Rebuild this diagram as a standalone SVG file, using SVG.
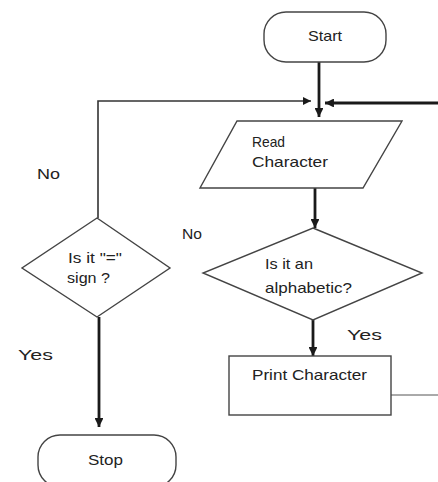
<svg xmlns="http://www.w3.org/2000/svg" width="438" height="482" viewBox="0 0 438 482">
  <defs>
    <marker id="arrow" viewBox="0 0 10 10" refX="10" refY="5" markerWidth="3.2" markerHeight="3.2" orient="auto" markerUnits="strokeWidth">
      <path d="M0,0 L10,5 L0,10 z" fill="#1a1a1a"/>
    </marker>
    <marker id="arrowThin" viewBox="0 0 10 10" refX="10" refY="5" markerWidth="5" markerHeight="5" orient="auto" markerUnits="strokeWidth">
      <path d="M0,0 L10,5 L0,10 z" fill="#1a1a1a"/>
    </marker>
  </defs>
  <style>
    .shape { fill: #ffffff; stroke: #444444; stroke-width: 1.4; }
    .conn { fill: none; stroke: #1a1a1a; stroke-width: 2.8; }
    .thin { fill: none; stroke: #333333; stroke-width: 1.6; }
    .hair { fill: none; stroke: #555555; stroke-width: 1; }
    text { font-family: "Liberation Sans", Arial, sans-serif; font-size: 14.5px; fill: #222222; }
  </style>
  <rect width="438" height="482" fill="#ffffff"/>

  <g id="connectors">
    <!-- Start to Read Character -->
    <path class="conn" d="M319,62 L319,117" marker-end="url(#arrow)"/>
    <!-- loop back from "=" decision -->
    <path class="thin" d="M98,218 L98,101 L311,101" marker-end="url(#arrowThin)"/>
    <!-- loop back from Print Character -->
    <path class="conn" d="M438,103 L325,103" marker-end="url(#arrow)"/>
    <!-- Read Character to alphabetic decision -->
    <path class="conn" d="M315,188 L315,228" marker-end="url(#arrow)"/>
    <!-- Yes: alphabetic to Print Character -->
    <path class="conn" d="M313,320 L313,356" marker-end="url(#arrow)"/>
    <!-- Print Character onward -->
    <path class="hair" d="M383,395 L438,395"/>
    <!-- Yes: "=" decision to Stop -->
    <path class="conn" d="M99,317 L99,427" marker-end="url(#arrow)"/>
  </g>

  <g id="start">
    <rect class="shape" x="264" y="12" width="122" height="50" rx="22" ry="22"/>
    <text x="308" y="41" textLength="34" lengthAdjust="spacingAndGlyphs">Start</text>
  </g>

  <g id="read-character">
    <polygon class="shape" points="237,121 402,121 363,188 200,188"/>
    <text x="252" y="147" textLength="33" lengthAdjust="spacingAndGlyphs">Read</text>
    <text x="252" y="167" textLength="76" lengthAdjust="spacingAndGlyphs">Character</text>
  </g>

  <g id="is-alphabetic">
    <polygon class="shape" points="313,228 422,273 313,320 203,273"/>
    <text x="265" y="269" textLength="48" lengthAdjust="spacingAndGlyphs">Is it an</text>
    <text x="265" y="293" textLength="87" lengthAdjust="spacingAndGlyphs">alphabetic?</text>
  </g>

  <g id="print-character">
    <rect class="shape" x="229" y="356" width="162" height="59"/>
    <text x="252" y="380" textLength="115" lengthAdjust="spacingAndGlyphs">Print Character</text>
  </g>

  <g id="is-equals">
    <polygon class="shape" points="97,218 170,268 97,317 22,268"/>
    <text x="68" y="263" textLength="54" lengthAdjust="spacingAndGlyphs">Is it "="</text>
    <text x="67" y="283" textLength="43" lengthAdjust="spacingAndGlyphs">sign ?</text>
  </g>

  <g id="stop">
    <rect class="shape" x="38" y="435" width="138" height="52" rx="22" ry="22"/>
    <text x="88" y="465" textLength="35" lengthAdjust="spacingAndGlyphs">Stop</text>
  </g>

  <g id="labels">
    <text x="37" y="179" textLength="23" lengthAdjust="spacingAndGlyphs">No</text>
    <text x="182" y="239" textLength="20" lengthAdjust="spacingAndGlyphs">No</text>
    <text x="347" y="340" textLength="35" lengthAdjust="spacingAndGlyphs">Yes</text>
    <text x="18" y="360" textLength="35" lengthAdjust="spacingAndGlyphs">Yes</text>
  </g>
</svg>
